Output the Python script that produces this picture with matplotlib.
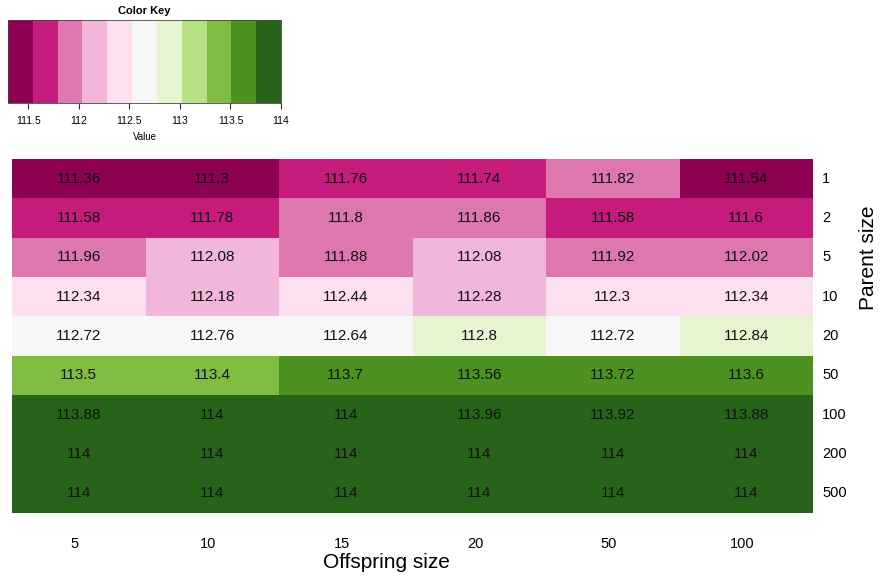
import matplotlib
matplotlib.use("Agg")
import matplotlib.pyplot as plt
import numpy as np
from matplotlib.colors import ListedColormap, BoundaryNorm

plt.rcParams['font.family'] = ['Liberation Sans', 'DejaVu Sans']

# données : taille offspring (colonnes) x taille parent (lignes)
offspring = ["5", "10", "15", "20", "50", "100"]
parents = ["1", "2", "5", "10", "20", "50", "100", "200", "500"]
vals = [
    [111.36, 111.3, 111.76, 111.74, 111.82, 111.54],
    [111.58, 111.78, 111.8, 111.86, 111.58, 111.6],
    [111.96, 112.08, 111.88, 112.08, 111.92, 112.02],
    [112.34, 112.18, 112.44, 112.28, 112.3, 112.34],
    [112.72, 112.76, 112.64, 112.8, 112.72, 112.84],
    [113.5, 113.4, 113.7, 113.56, 113.72, 113.6],
    [113.88, 114, 114, 113.96, 113.92, 113.88],
    [114, 114, 114, 114, 114, 114],
    [114, 114, 114, 114, 114, 114],
]
key_ticks = [111.5, 112, 112.5, 113, 113.5, 114]

couleurs = ["#8e0152", "#c51b7d", "#de77ae", "#f1b6da", "#fde0ef", "#f7f7f7",
            "#e6f5d0", "#b8e186", "#7fbc41", "#4d9221", "#276419"]
cmap = ListedColormap(couleurs)
vmin, vmax = 111.3, 114
bornes = np.linspace(vmin, vmax, len(couleurs) + 1)
norm = BoundaryNorm(bornes, cmap.N)

M = np.array(vals)
W, H = 881, 579
fig = plt.figure(figsize=(W / 100, H / 100), dpi=100)

## heatmap
ax = fig.add_axes([12 / W, 1 - 513 / H, 801 / W, 354 / H])
ax.pcolormesh(np.arange(M.shape[1] + 1), np.arange(M.shape[0] + 1), M,
              cmap=cmap, norm=norm)
ax.set_xlim(0, M.shape[1])
ax.set_ylim(M.shape[0], 0)
for i in range(M.shape[0]):
    for j in range(M.shape[1]):
        ax.text(j + 0.5, i + 0.5, "%g" % M[i, j], ha="center", va="center",
                fontsize=11, color="#111111")
for s in ax.spines.values():
    s.set_visible(False)
ax.set_xticks([]); ax.set_yticks([])

# étiquettes colonnes / lignes
for j, lab in enumerate(offspring):
    ax.text(j + 0.47, M.shape[0] + 0.78, lab, ha="center", va="center", fontsize=10.5)
for i, lab in enumerate(parents):
    ax.text(M.shape[1] + 0.07, i + 0.5, lab, ha="left", va="center", fontsize=10.5)
fig.text(386 / W, 1 - 563 / H, "Offspring size", ha="center", va="center", fontsize=15)
fig.text(868 / W, 1 - 258 / H, "Parent size", ha="center", va="center",
         fontsize=15, rotation=90)

## color key
kx = fig.add_axes([8 / W, 1 - 103 / H, 273 / W, 83 / H])
kx.pcolormesh(bornes, [0, 1], bornes[:-1].reshape(1, -1) + 1e-6, cmap=cmap, norm=norm)
kx.set_xlim(vmin, vmax)
kx.set_ylim(0, 1)
kx.set_yticks([])
kx.set_xticks(key_ticks)
kx.set_xticklabels(["%g" % t for t in key_ticks], fontsize=7.5)
kx.tick_params(axis="x", length=4, width=0.8, color="#333333", pad=5)
for s in kx.spines.values():
    s.set_color("#444444")
    s.set_linewidth(0.6)
kx.set_xlabel("Value", fontsize=7, labelpad=5)
kx.set_title("Color Key", fontsize=8, fontweight="bold", pad=4)

fig.savefig("out.png", dpi=100)
